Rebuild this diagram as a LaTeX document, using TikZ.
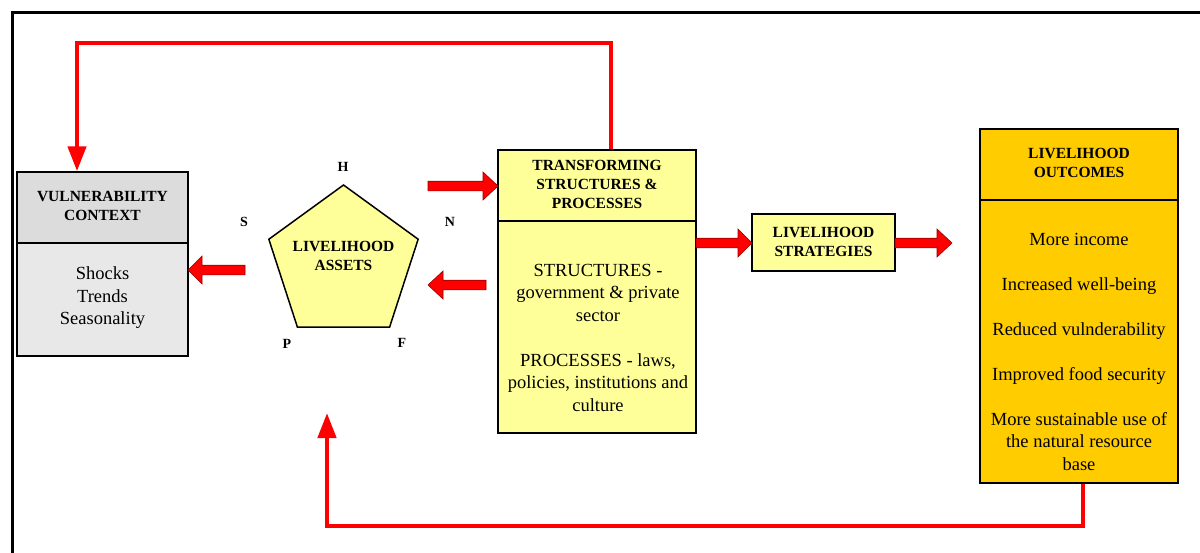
\documentclass[tikz,border=0pt]{standalone}
\usepackage{fontspec}
\setmainfont{LiberationSerif}[Extension=.ttf,UprightFont=*-Regular,BoldFont=*-Bold,ItalicFont=*-Italic,BoldItalicFont=*-BoldItalic]
\usetikzlibrary{shapes.geometric,arrows.meta}
\definecolor{ly}{HTML}{FFFF99}
\definecolor{hg}{HTML}{DCDCDC}
\definecolor{bg}{HTML}{E8E8E8}
\definecolor{og}{HTML}{FFCC00}
\newcommand\harrow[4]{% tail x, head-base x, tip x, y
  \filldraw[barrow] (#1,#4-4.8) -- (#2,#4-4.8) -- (#2,#4-14) -- (#3,#4) -- (#2,#4+14) -- (#2,#4+4.8) -- (#1,#4+4.8) -- cycle;}
\begin{document}
\begin{tikzpicture}[x=1pt,y=-1pt,
 box/.style={draw=black,line width=1.5pt,inner sep=0pt},
 hd/.style={font=\rmfamily\fontsize{15.5}{19}\selectfont\bfseries,align=center,inner sep=0pt},
 bd/.style={font=\rmfamily\fontsize{18.5}{22.5}\selectfont,align=center,inner sep=0pt},
 lbl/.style={font=\rmfamily\fontsize{14}{16}\selectfont\bfseries,inner sep=0pt},
 link/.style={draw=red,line width=4.5pt},
 linktip/.style={-{Triangle[length=25pt,width=18pt]}},
 barrow/.style={fill=red,draw=red!60!black,line width=0.6pt}]
\useasboundingbox (0,0) rectangle (1200,552);
\clip (0,0) rectangle (1200,552);
\fill[white] (0,0) rectangle (1200,552);
% frame
\draw[line width=3pt] (12.5,600) -- (12.5,12.5) -- (1250,12.5);

% vulnerability context
\node[box,fill=hg,minimum width=171pt,minimum height=71pt] (vulnH) at (102.5,207.5) {};
\node[box,fill=bg,minimum width=171pt,minimum height=113pt] (vulnB) at (102.5,299.5) {};
\node[hd] (vulnT) at (102.5,206) {VULNERABILITY\\CONTEXT};
\node[bd] (vulnL) at (102.5,298) {Shocks\\Trends\\Seasonality};

% livelihood assets
\node[regular polygon,regular polygon sides=5,minimum size=157pt,inner sep=0pt,draw=black,line width=1.5pt,fill=ly] (pent) at (343.5,263.5) {};
\node[hd] (pentT) at (343.5,256) {LIVELIHOOD\\ASSETS};
\node[lbl] (lH) at (343,167) {H};
\node[lbl] (lS) at (244,222) {S};
\node[lbl] (lN) at (450,222) {N};
\node[lbl] (lP) at (287,344) {P};
\node[lbl] (lF) at (402,343) {F};

% transforming structures
\node[box,fill=ly,minimum width=198pt,minimum height=71pt] (transH) at (597,185.5) {};
\node[box,fill=ly,minimum width=198pt,minimum height=212pt] (transB) at (597,327) {};
\node[hd] (transT) at (597,184.5) {TRANSFORMING\\STRUCTURES \&\\PROCESSES};
\node[bd] (transL) at (598,337.5) {STRUCTURES -\\government \& private\\sector\\[22.5pt]PROCESSES - laws,\\policies, institutions and\\culture};

% strategies
\node[box,fill=ly,minimum width=143pt,minimum height=57pt] (strat) at (823.5,242.5) {};
\node[hd] (stratT) at (823.5,242) {LIVELIHOOD\\STRATEGIES};

% outcomes
\node[box,fill=og,minimum width=198pt,minimum height=71pt] (outH) at (1079,164.5) {};
\node[box,fill=og,minimum width=198pt,minimum height=283pt] (outB) at (1079,341.5) {};
\node[hd] (outT) at (1079,163) {LIVELIHOOD\\OUTCOMES};
\node[bd] (outL) at (1079,351.5) {More income\\[22.5pt]Increased well-being\\[22.5pt]Reduced vulnderability\\[22.5pt]Improved food security\\[22.5pt]More sustainable use of\\the natural resource\\base};

% block arrows
\harrow{245}{202}{188}{270}
\harrow{428}{483}{498}{186}
\harrow{486}{443}{428}{285}
\harrow{696}{738}{752}{243}
\harrow{895}{937}{952}{243}

% feedback loops
\coordinate (c1) at (611,43);
\coordinate (c2) at (77,43);
\draw[link,linktip] (c1 |- transH.north) -- (c1) -- (c2) -- (c2 |- vulnH.north);
\coordinate (c3) at (1083,526);
\coordinate (c4) at (327,526);
\coordinate (tipB) at (327,413);
\draw[link,linktip] (c3 |- outB.south) -- (c3) -- (c4) -- (tipB);
\end{tikzpicture}
\end{document}
